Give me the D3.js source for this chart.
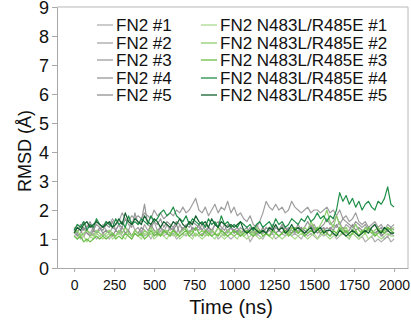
<!DOCTYPE html>
<html>
<head>
<meta charset="utf-8">
<script src="https://cdn.jsdelivr.net/npm/d3@7"></script>
<style>
  body { margin: 0; background: #fff; }
  svg { display: block; font-family: "Liberation Sans", Arial, sans-serif; }
</style>
</head>
<body>
<svg id="chart"></svg>
<script>
// sampling grid of the trajectories (ns)
const time = d3.range(0, 2001, 20);

const xTicks = [0, 250, 500, 750, 1000, 1250, 1500, 1750, 2000];
const yTicks = [0, 1, 2, 3, 4, 5, 6, 7, 8, 9];

const names = ["FN2 #1", "FN2 #2", "FN2 #3", "FN2 #4", "FN2 #5",
  "FN2 N483L/R485E #1", "FN2 N483L/R485E #2", "FN2 N483L/R485E #3",
  "FN2 N483L/R485E #4", "FN2 N483L/R485E #5"];
const colors = ["#b0b0b0", "#a6a6a6", "#9e9e9e", "#989898", "#909090",
  "#a9da8e", "#8fcf6e", "#6cbf48", "#1f8f48", "#12602d"];

const fn2_1 = [1.1,1.2,1.0,1.1,1.3,1.1,1.2,1.0,1.1,1.2,
  1.1,1.0,1.2,1.1,1.3,1.1,1.2,1.1,1.0,1.2,
  1.1,1.3,1.1,1.2,1.0,1.2,1.1,1.3,1.1,1.2,
  1.1,1.2,1.0,1.1,1.2,1.1,1.3,1.1,1.2,1.1,
  1.2,1.1,1.3,1.1,1.2,1.0,1.1,1.2,1.1,1.0,
  1.1,1.2,1.1,1.3,1.2,0.9,1.1,1.2,1.1,1.0,
  1.2,1.1,1.2,1.0,1.1,1.2,1.1,1.3,1.1,1.2,
  1.1,1.0,1.2,1.1,1.2,1.1,1.0,1.2,1.1,1.2,
  1.1,1.2,1.0,1.1,1.2,1.1,1.0,1.2,1.1,1.0,
  1.1,0.9,1.0,1.1,0.9,1.0,0.9,1.0,1.1,0.9,
  1.0];
const fn2_2 = [1.2,1.4,1.3,1.1,1.3,1.2,1.4,1.2,1.3,1.5,
  1.3,1.2,1.4,1.3,1.5,1.2,1.4,1.3,1.6,1.3,
  1.4,1.2,1.5,1.3,1.4,1.6,1.3,1.4,1.2,1.5,
  1.3,1.4,1.2,1.5,1.3,1.4,1.6,1.3,1.4,1.3,
  1.5,1.3,1.4,1.2,1.5,1.4,1.3,1.5,1.2,1.4,
  1.3,1.2,1.4,1.3,1.2,1.4,1.3,1.1,1.3,1.2,
  1.4,1.3,1.2,1.4,1.3,1.5,1.2,1.4,1.3,1.2,
  1.3,1.4,1.2,1.3,1.5,1.3,1.4,1.2,1.3,1.4,
  1.3,1.5,1.4,1.6,1.3,1.5,1.4,1.3,1.5,1.3,
  1.2,1.4,1.3,1.2,1.1,1.3,1.2,1.0,1.1,1.2,
  1.1];
const fn2_3 = [1.3,1.5,1.4,1.6,1.4,1.5,1.3,1.6,1.5,1.4,
  1.6,1.5,1.7,1.5,1.6,1.9,1.7,1.6,1.8,1.7,
  1.8,1.7,1.9,1.8,1.7,2.0,1.8,1.9,1.7,1.8,
  1.9,1.8,2.0,1.9,2.1,1.9,2.0,2.2,2.4,2.0,
  1.9,2.1,1.8,2.0,2.2,1.9,2.1,2.0,2.3,1.9,
  2.1,1.8,1.9,1.7,1.6,1.8,1.5,1.4,1.6,1.9,
  2.3,2.1,2.0,2.2,2.0,2.1,1.9,2.0,2.3,2.1,
  2.0,1.9,2.0,2.1,1.9,2.0,2.0,1.9,2.0,2.1,
  1.9,2.0,1.8,2.0,1.7,1.8,1.6,1.7,1.9,1.6,
  1.5,1.6,1.4,1.5,1.6,1.4,1.5,1.3,1.5,1.4,
  1.5];
const fn2_4 = [1.4,1.2,1.5,1.3,1.4,1.6,1.3,1.5,1.4,1.3,
  1.5,1.4,1.6,1.3,1.5,1.4,1.7,1.5,1.4,1.9,
  1.5,1.6,2.2,1.5,1.4,1.6,1.5,1.7,1.4,1.6,
  1.5,1.4,1.6,1.5,1.3,1.5,1.4,1.6,1.5,1.4,
  1.3,1.5,1.4,1.3,1.5,1.6,1.4,1.3,1.5,1.4,
  1.3,1.4,1.2,1.3,1.4,1.2,1.3,1.5,1.3,1.2,
  1.4,1.3,1.5,1.4,1.3,1.5,1.4,1.2,1.4,1.3,
  1.5,1.3,1.4,1.6,1.4,1.5,1.3,1.4,1.5,1.7,
  1.5,1.6,1.8,1.5,1.7,1.6,1.5,1.4,1.6,1.5,
  1.4,1.5,1.3,1.4,1.5,1.3,1.4,1.2,1.3,1.4,
  1.3];
const fn2_5 = [1.3,1.1,1.2,1.4,1.2,1.1,1.3,1.2,1.4,1.2,
  1.3,1.2,1.1,1.3,1.2,1.4,1.2,1.3,1.1,1.3,
  1.2,1.4,1.3,1.2,1.5,1.3,1.2,1.4,1.3,1.2,
  1.4,1.3,1.5,1.2,1.4,1.3,1.2,1.4,1.3,1.5,
  1.3,1.2,1.4,1.3,1.2,1.4,1.3,1.2,1.3,1.4,
  1.2,1.3,1.1,1.2,1.3,1.2,1.1,1.3,1.2,1.4,
  1.2,1.3,1.4,1.2,1.3,1.2,1.4,1.3,1.2,1.3,
  1.2,1.4,1.3,1.2,1.3,1.4,1.2,1.3,1.4,1.2,
  1.4,1.3,1.5,1.3,1.4,1.2,1.3,1.5,1.3,1.4,
  1.3,1.2,1.4,1.3,1.2,1.3,1.1,1.2,1.3,1.2,
  1.2];
const mut_1 = [1.1,1.0,1.2,1.1,0.9,1.1,1.0,1.2,1.1,1.0,
  1.1,1.2,1.0,1.1,1.2,1.1,1.0,1.2,1.1,1.2,
  1.1,1.0,1.2,1.1,1.2,1.0,1.1,1.2,1.1,1.0,
  1.2,1.1,1.2,1.0,1.1,1.2,1.1,1.0,1.2,1.1,
  1.0,1.1,1.2,1.1,1.0,1.2,1.1,1.0,1.1,1.2,
  1.1,1.0,1.2,1.1,1.0,1.1,1.2,1.1,1.0,1.1,
  1.2,1.1,1.0,1.2,1.1,1.0,1.1,1.2,1.1,1.0,
  1.1,1.2,1.1,1.0,1.1,1.2,1.0,1.1,1.2,1.1,
  1.0,1.1,1.2,1.1,1.3,1.1,1.0,1.2,1.1,1.0,
  1.1,1.2,1.0,1.1,1.2,1.1,1.0,1.1,1.2,1.1,
  1.1];
const mut_2 = [1.2,1.3,1.1,1.2,1.3,1.2,1.1,1.3,1.2,1.1,
  1.2,1.3,1.2,1.1,1.3,1.2,1.4,1.2,1.1,1.3,
  1.2,1.1,1.3,1.2,1.4,1.2,1.3,1.1,1.2,1.3,
  1.2,1.3,1.1,1.2,1.3,1.4,1.2,1.3,1.1,1.2,
  1.3,1.2,1.1,1.3,1.2,1.4,1.2,1.1,1.3,1.2,
  1.1,1.2,1.3,1.1,1.2,1.3,1.2,1.4,1.2,1.3,
  1.2,1.1,1.3,1.2,1.1,1.2,1.3,1.2,1.4,1.3,
  1.2,1.3,1.4,1.3,1.6,1.4,1.3,1.5,1.7,2.0,
  1.6,1.4,1.8,1.5,1.3,1.4,1.2,1.3,1.5,1.3,
  1.2,1.4,1.3,1.2,1.3,1.4,1.2,1.3,1.4,1.3,
  1.4];
const mut_3 = [1.1,1.0,1.1,0.9,1.0,0.9,1.0,1.1,1.0,1.1,
  1.0,1.1,1.2,1.0,1.1,1.0,1.2,1.1,1.0,1.2,
  1.1,1.2,1.0,1.1,1.3,1.1,1.2,1.1,1.3,1.2,
  1.1,1.3,1.2,1.1,1.2,1.3,1.1,1.2,1.4,1.2,
  1.1,1.3,1.2,1.1,1.2,1.1,1.3,1.2,1.1,1.2,
  1.3,1.2,1.1,1.2,1.3,1.2,1.1,1.2,1.3,1.1,
  1.2,1.1,1.3,1.2,1.1,1.2,1.3,1.1,1.2,1.4,
  1.2,1.3,1.1,1.2,1.3,1.2,1.4,1.2,1.3,1.2,
  1.1,1.3,1.2,1.4,1.2,1.3,1.1,1.2,1.3,1.1,
  1.3,1.2,1.4,1.3,1.1,1.2,1.3,1.2,1.4,1.3,
  1.2];
const mut_4 = [1.3,1.5,1.4,1.6,1.3,1.5,1.4,1.7,1.5,1.4,
  1.6,1.5,1.4,1.7,1.5,1.6,1.4,1.8,1.5,1.6,
  1.5,1.7,1.6,1.5,1.8,1.6,1.7,1.9,2.0,1.8,
  1.9,2.1,1.8,1.7,1.6,1.8,1.5,1.7,1.6,1.5,
  1.6,1.4,1.7,1.5,1.6,1.4,1.8,1.5,1.6,1.4,
  1.5,1.4,1.6,1.5,1.4,1.5,1.3,1.5,1.6,1.4,
  1.5,1.6,1.4,1.7,1.5,1.6,1.4,1.5,1.7,1.6,
  1.5,1.7,1.6,1.8,1.6,1.7,1.9,1.7,1.8,1.6,
  1.8,1.7,2.0,2.6,2.3,2.5,2.2,2.4,2.1,2.3,
  2.0,2.2,2.3,2.1,2.0,2.3,2.2,2.4,2.8,2.2,
  2.1];
const mut_5 = [1.2,1.4,1.3,1.5,1.6,1.4,1.5,1.6,1.5,1.4,
  1.5,1.6,1.4,1.5,1.7,1.5,1.9,1.6,1.5,1.7,
  1.6,1.5,1.8,1.6,1.5,1.7,1.6,1.4,1.6,1.5,
  1.4,1.6,1.5,1.7,1.5,1.4,1.6,1.5,1.8,1.6,
  1.5,1.6,1.4,1.7,1.5,1.4,1.6,1.5,1.4,1.5,
  1.4,1.5,1.6,1.3,1.2,1.3,1.4,1.3,1.2,1.3,
  1.2,1.4,1.3,1.5,1.3,1.4,1.2,1.3,1.5,1.3,
  1.4,1.3,1.2,1.3,1.4,1.2,1.3,1.4,1.2,1.3,
  1.3,1.2,1.1,1.3,1.2,1.1,1.2,1.3,1.2,1.1,
  1.2,1.3,1.2,1.4,1.5,1.3,1.2,1.4,1.3,1.2,
  1.2];

const series = [fn2_1, fn2_2, fn2_3, fn2_4, fn2_5, mut_1, mut_2, mut_3, mut_4, mut_5];

const width = 411, height = 328;
const plotLeft = 57, plotRight = 408, plotTop = 7, plotBottom = 268;

const svg = d3.select('#chart').attr('width', width).attr('height', height);

const x = d3.scaleLinear().domain([-107, 2087]).range([plotLeft, plotRight]);
const y = d3.scaleLinear().domain([0, 9]).range([plotBottom, plotTop]);

// frame (top and right)
svg.append('path')
  .attr('d', `M${plotLeft},${plotTop}H${plotRight}V${plotBottom}`)
  .attr('fill', 'none').attr('stroke', '#b8b8b8').attr('stroke-width', 1);

const line = d3.line().x((d, i) => x(time[i])).y(d => y(d));

svg.append('g').selectAll('path').data(series).enter().append('path')
  .attr('d', line)
  .attr('fill', 'none')
  .attr('stroke', (d, i) => colors[i])
  .attr('stroke-width', 1.2)
  .attr('stroke-linejoin', 'round');

// axes
const xAxis = svg.append('g').attr('transform', `translate(0,${plotBottom})`)
  .call(d3.axisBottom(x).tickValues(xTicks).tickFormat(d3.format('d'))
    .tickSize(4).tickSizeOuter(0).tickPadding(8));
const yAxis = svg.append('g').attr('transform', `translate(${plotLeft},0)`)
  .call(d3.axisLeft(y).tickValues(yTicks).tickSize(5).tickSizeOuter(0).tickPadding(3));

[xAxis, yAxis].forEach(a => {
  a.select('.domain').attr('stroke', '#a8a8a8');
  a.selectAll('.tick line').attr('stroke', '#a8a8a8');
  a.selectAll('.tick text').attr('fill', '#111').attr('font-family', '"Liberation Sans", Arial, sans-serif');
});
xAxis.selectAll('.tick text').attr('font-size', 14);
yAxis.selectAll('.tick text').attr('font-size', 18).attr('dy', '0.37em');

svg.append('text')
  .attr('x', 231).attr('y', 314)
  .attr('text-anchor', 'middle')
  .attr('font-size', 20).attr('fill', '#111')
  .text('Time (ns)');

svg.append('text')
  .attr('transform', 'translate(31,151) rotate(-90)')
  .attr('text-anchor', 'middle')
  .attr('font-size', 18).attr('fill', '#111')
  .text('RMSD (Å)');

// legend, two columns
const legend = svg.append('g');
const rowY = [25, 43, 60, 78, 95];
names.forEach((n, i) => {
  const col = i < 5 ? 0 : 1;
  const lx = col === 0 ? 97 : 201;
  const ly = rowY[i % 5];
  legend.append('line')
    .attr('x1', lx).attr('x2', lx + 16).attr('y1', ly).attr('y2', ly)
    .attr('stroke', colors[i]).attr('stroke-width', 1.3);
  legend.append('text')
    .attr('x', lx + 19).attr('y', ly).attr('dy', '0.36em')
    .attr('font-size', 17).attr('fill', '#111')
    .text(n);
});
</script>
</body>
</html>
